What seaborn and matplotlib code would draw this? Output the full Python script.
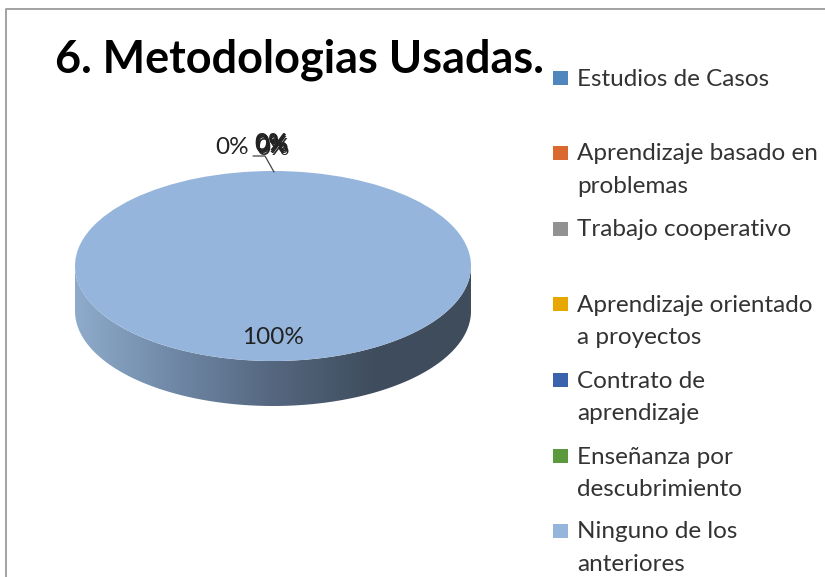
"""Pie chart of the methodologies used, drawn with a fake 3D side."""

import matplotlib.pyplot as plt
import numpy as np
import seaborn as sns
from matplotlib.colors import LinearSegmentedColormap
from matplotlib.patches import Polygon, Rectangle

TITLE = "6. Metodologias Usadas."
categories = [
    "Estudios de Casos",
    "Aprendizaje basado en\nproblemas",
    "Trabajo cooperativo",
    "Aprendizaje orientado\na proyectos",
    "Contrato de\naprendizaje",
    "Enseñanza por\ndescubrimiento",
    "Ninguno de los\nanteriores",
]
values = [0, 0, 0, 0, 0, 0, 100]
colors = ["#4f86bd", "#d9692e", "#929292", "#e6a800", "#3a62ad", "#5b9a3c", "#95b5dd"]
side_colors = ["#8fabcb", "#6f88a6", "#55677f", "#3f4d5e", "#3f4c5c"]

W, H = 825, 577
sns.set_theme(style="white")
plt.rcParams["font.family"] = ["Lato", "DejaVu Sans"]

fig = plt.figure(figsize=(W / 100, H / 100), dpi=100, facecolor="white")

# overlay in pixel coordinates, for the frame and the legend
over = fig.add_axes([0, 0, 1, 1], zorder=3)
over.set_xlim(0, W)
over.set_ylim(H, 0)
over.axis("off")
over.patch.set_alpha(0)

cx, cy, rx, ry, depth = 273, 266, 198, 95, 45
ax = fig.add_axes([(cx - rx) / W, 1 - (cy + ry) / H, 2 * rx / W, 2 * ry / H])


def to_pie(px, py):
    return (px - cx) / rx, (cy - py) / ry


wedges, _, autotexts = ax.pie(
    values,
    colors=sns.color_palette(colors),
    startangle=90,
    counterclock=False,
    autopct="%.0f%%",
    pctdistance=0.75,
    wedgeprops={"linewidth": 0},
    textprops={"fontsize": 17.5, "color": "#222222"},
)
for w in wedges:
    w.set_clip_on(False)

# the six empty slices all stack up above the top edge
zero_spots = [(232, 147), (271, 143), (272, 146), (273, 148), (271, 145), (272, 144)]
for txt, spot in zip(autotexts[:-1], zero_spots):
    txt.set_position(to_pie(*spot))
    txt.set_clip_on(False)
    txt.set_ha("center")
    txt.set_va("center")

# side of the disc
d = depth / ry
t = np.linspace(np.pi, 2 * np.pi, 200)
band = np.r_[np.c_[np.cos(t), np.sin(t)], np.c_[np.cos(t[::-1]), np.sin(t[::-1]) - d]]
clip = Polygon(band, closed=True, transform=ax.transData, facecolor="none", edgecolor="none")
clip.set_clip_on(False)
ax.add_patch(clip)
cmap = LinearSegmentedColormap.from_list("side", side_colors)
img = ax.imshow(
    np.linspace(0, 1, 256).reshape(1, -1),
    cmap=cmap,
    extent=(-1, 1, -1 - d, 0.1),
    aspect="auto",
    zorder=0,
)
img.set_clip_box(fig.bbox)
img.set_clip_path(clip)
ax.set_xlim(-1, 1)
ax.set_ylim(-1, 1)
ax.set_aspect("auto")
ax.axis("off")

# leader line of the first 0% label
over.plot([253, 265, 274], [156, 156, 172], color="#444444", lw=0.9)

# frame, only top and left edges show
over.plot([6, 6, W], [H, 9, 9], color="#a2a2a2", lw=1.4, clip_on=False)

over.text(55, 60, TITLE, fontsize=32.4, fontweight="bold", color="black",
          ha="left", va="center")

tops = [78, 153, 229, 304, 380, 456, 531]
for label, color, y in zip(categories, colors, tops):
    over.add_patch(Rectangle((553, y - 7), 15, 14, facecolor=color, edgecolor="none"))
    for i, line in enumerate(label.split("\n")):
        over.text(577, y + 1 + i * 32.5, line, fontsize=17.5, color="#333333",
                  ha="left", va="center")

fig.savefig("out.png", dpi=100)
